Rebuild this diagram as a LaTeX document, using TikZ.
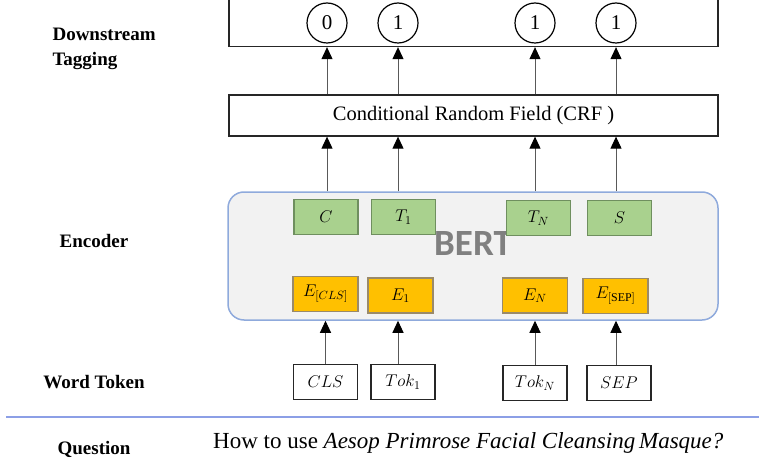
\RequirePackage{fix-cm}
\documentclass[tikz,border=0pt]{standalone}
\usepackage{amsmath}
\usepackage{fontspec}
\setmainfont{Liberation Serif}
\newfontfamily\bertfont{Carlito}
\usetikzlibrary{arrows.meta}

\definecolor{bertfill}{HTML}{F2F2F2}
\definecolor{bertline}{HTML}{8FAADC}
\definecolor{sepline}{HTML}{8C9FE6}
\definecolor{outgreen}{HTML}{A9D18E}
\definecolor{outedge}{HTML}{6F8F5F}
\definecolor{embyellow}{HTML}{FFC000}
\definecolor{embedge}{HTML}{9A8A6A}

\tikzset{
    layerbox/.style={draw=black!85, line width=1.3pt, minimum width=489pt, inner sep=0pt},
    tagcirc/.style={draw=black, line width=1.2pt, circle, minimum size=40pt, inner sep=0pt, font=\fontsize{21}{24}\selectfont},
    outbox/.style={draw=outedge, line width=1.2pt, fill=outgreen, minimum width=64pt, minimum height=35pt, inner sep=0pt, font=\fontsize{17}{20}\selectfont},
    embbox/.style={draw=embedge, line width=1.2pt, fill=embyellow, minimum width=65pt, minimum height=35pt, inner sep=0pt, font=\fontsize{17}{20}\selectfont},
    tokbox/.style={draw=black!85, line width=1.2pt, minimum width=64pt, minimum height=35pt, inner sep=0pt, font=\fontsize{17}{20}\selectfont},
    rowlabel/.style={font=\fontsize{19}{25}\selectfont\bfseries, align=left},
    uparrow/.style={draw=black!65, line width=1pt, -{Triangle[width=11pt,length=12pt,color=black]}}
}

\begin{document}
\begin{tikzpicture}[x=1pt, y=-1pt]
    \useasboundingbox (0,0) rectangle (759,465);

    % 左侧标签
    \node[rowlabel, anchor=west] (lbltag) at (49,49) {Downstream\\Tagging};
    \node[rowlabel] (lblenc) at (94,241) {Encoder};
    \node[rowlabel] (lbltok) at (94,382) {Word Token};
    \node[rowlabel] (lblq) at (94,449) {Question};

    % 顶部输出框 (上边缘在图外)
    \node[layerbox, minimum height=49pt] (tagbox) at (473.5,22) {};
    \node[tagcirc] (o1) at (327,23) {0};
    \node[tagcirc] (o2) at (398,23) {1};
    \node[tagcirc] (o3) at (535,23) {1};
    \node[tagcirc] (o4) at (616,23) {1};

    % CRF 层
    \node[layerbox, minimum height=41pt, font=\fontsize{20.5}{24}\selectfont] (crf) at (473.5,115.5) {Conditional Random Field (CRF )};

    % BERT 编码器
    \node[draw=bertline, line width=1.5pt, fill=bertfill, rounded corners=16pt,
          minimum width=490pt, minimum height=128pt] (bert) at (473,256) {};
    \node[text=black!50, font=\bertfont\bfseries\fontsize{37}{40}\selectfont] (berttxt) at (473,244) {BERT};

    \node[outbox] (c) at (326,217) {$C$};
    \node[outbox] (t1) at (403.5,217) {$T_1$};
    \node[outbox] (tn) at (538.5,218) {$T_N$};
    \node[outbox] (s) at (619.5,218) {$S$};

    \node[embbox] (ecls) at (325.5,294) {$E_{[CLS]}$};
    \node[embbox] (e1) at (400.5,295.5) {$E_1$};
    \node[embbox] (en) at (535,295.5) {$E_N$};
    \node[embbox] (esep) at (615.5,296) {$E_{[\mathrm{SEP}]}$};

    % 词元
    \node[tokbox] (tcls) at (325.5,382) {$CLS$};
    \node[tokbox] (tok1) at (403,382) {$Tok_1$};
    \node[tokbox] (tokn) at (535,383) {$Tok_N$};
    \node[tokbox] (tsep) at (619,383) {$SEP$};

    % 箭头: 词元 -> BERT
    \draw[uparrow] (tcls.north) -- (tcls.north |- bert.south);
    \draw[uparrow] (tok1.north -| o2) -- (bert.south -| o2);
    \draw[uparrow] (tokn.north) -- (tokn.north |- bert.south);
    \draw[uparrow] (tsep.north -| o4) -- (bert.south -| o4);

    % 箭头: BERT -> CRF -> 输出
    \foreach \o in {o1,o2,o3,o4} {
        \draw[uparrow] (bert.north -| \o) -- (crf.south -| \o);
        \draw[uparrow] (crf.north -| \o) -- (tagbox.south -| \o);
    }

    % 分隔线
    \coordinate (sepL) at (6,417);
    \coordinate (sepR) at (759,417);
    \draw[sepline, line width=1.2pt] (sepL) -- (sepR);

    % 问题
    \node[anchor=west, font=\fontsize{23}{26}\selectfont, inner sep=0pt] (question) at (213,443)
        {How to use \textit{Aesop Primrose Facial Cleansing\,Masque?}};
\end{tikzpicture}
\end{document}
